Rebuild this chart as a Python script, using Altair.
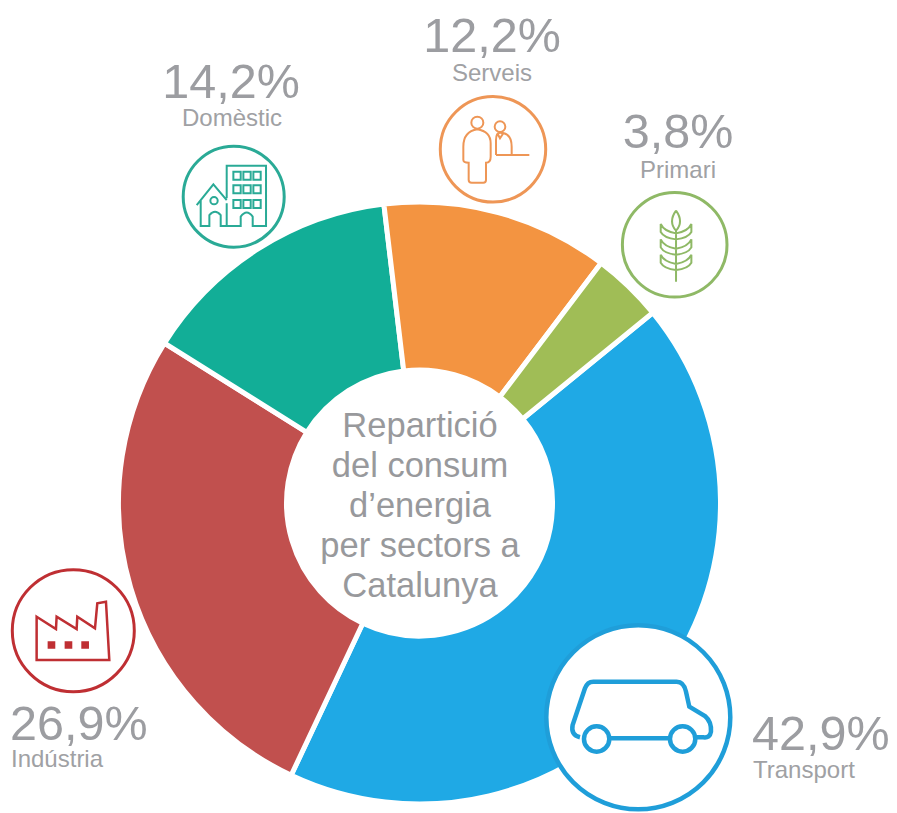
import math
import re
import altair as alt
import pandas as pd

sectors = ["Transport", "Indústria", "Domèstic", "Serveis", "Primari"]
shares = [42.9, 26.9, 14.2, 12.2, 3.8]
share_labels = ["42,9%", "26,9%", "14,2%", "12,2%", "3,8%"]
slice_colors = ["#1fa9e5", "#c1504e", "#12ae97", "#f39441", "#a0bd56"]
centre_title = "Repartició\ndel consum\nd’energia\nper sectors a\nCatalunya"

df = pd.DataFrame({"sector": sectors, "share": shares, "label": share_labels,
                   "rank": list(range(len(sectors)))})
centre_df = pd.DataFrame({"title": [centre_title]})

OFFSET = 8  # page margin: picture pixels -> plot pixels


def ring(x, y, r):
    k = r * 0.5523
    return (f"M{x-r} {y} C{x-r} {y-k} {x-k} {y-r} {x} {y-r} C{x+k} {y-r} {x+r} {y-k} {x+r} {y} "
            f"C{x+r} {y+k} {x+k} {y+r} {x} {y+r} C{x-k} {y+r} {x-r} {y+k} {x-r} {y} Z ")


def box(x, y, w, h):
    return f"M{x} {y} L{x+w} {y} L{x+w} {y+h} L{x} {y+h} Z "


def glyph(path, cx, cy):
    """Outline sketched on a 3x crop: re-centre it on the badge, in picture pixels."""
    return re.sub(r"(-?[\d.]+) (-?[\d.]+)",
                  lambda m: f"{(float(m[1])-cx)/3:.2f} {(float(m[2])-cy)/3:.2f}", path)


dom = ("M230 595 L230 497 L348 497 L348 678 L308 678 L308 650 Q290 625 272 650 L272 678 L230 678 L230 610 "
       "M140 615 L190 553 L230 600 M152 602 L152 678 L178 678 L178 645 Q195 625 212 645 L212 678 L230 678 "
       + ring(192, 602, 11)
       + "".join(box(x, y, 22, 24) for x in (250, 280, 310) for y in (515, 556, 600)))
srv = (ring(172, 368, 18)
       + "M172 388 Q130 395 130 440 L130 480 Q130 488 146 488 L146 540 Q146 548 155 548 L190 548 "
         "Q198 548 198 540 L198 488 Q212 488 212 470 L212 430 Q212 395 172 388 Z "
       + ring(240, 380, 16)
       + "M228 465 L228 420 Q228 398 240 398 Q275 398 275 440 L275 465 M228 465 L328 465 "
         "M232 400 L240 415 L250 400 ")
pri = "M768 692 L768 845 M768 632 Q792 665 768 692 Q744 665 768 632 "
for y in (672, 718, 764):
    pri += (f"M768 {y+46} Q732 {y+42} 722 {y+24} L722 {y} Q732 {y+22} 768 {y+28} "
            f"M768 {y+46} Q804 {y+42} 814 {y+24} L814 {y} Q804 {y+22} 768 {y+28} ")
ind = "M110 170 L168 207 L170 170 L230 207 L232 170 L285 205 L292 130 L318 125 L328 300 L110 300 Z "
ind_fill = "".join(box(x, 244, 23, 22) for x in (143, 194, 244))
van = ("M150 382 Q122 375 128 345 L165 235 Q172 215 190 215 L440 215 Q462 215 468 245 L478 290 "
       "L525 318 Q545 335 543 365 Q540 385 520 382 L500 382 M420 385 L240 385 "
       + ring(200, 387, 38) + ring(458, 387, 38))

# badge: sector -> picture centre x, y, radius, stroke colour, stroke width, glyph
badges = [
    ("Transport", 638.3, 717.3, 92, "#1f9ed9", 4.5, glyph(van, 325, 322), None, 4.5),
    ("Indústria", 73.3, 630.7, 61, "#bf2f33", 3, glyph(ind, 220, 212), glyph(ind_fill, 220, 212), 2.5),
    ("Domèstic", 233.7, 196.7, 50.5, "#2aaa96", 3, glyph(dom, 251, 590), None, 2),
    ("Serveis", 493, 149.3, 52.7, "#ee9656", 3, glyph(srv, 219, 448), None, 2),
    ("Primari", 674.7, 244.7, 52.3, "#8fb966", 3, glyph(pri, 764, 734), None, 2),
]
# texts: sector -> align, number x, number baseline, name x, name baseline
texts = [
    ("Transport", "left", 752, 750, 753, 778),
    ("Indústria", "left", 10, 740, 11, 767),
    ("Domèstic", "center", 231, 98, 232, 126),
    ("Serveis", "center", 492, 52, 492, 81),
    ("Primari", "center", 678, 148, 678, 178),
]

FONT = "Liberation Sans"
start = math.radians(50.8)

base = alt.Chart(df)
arcs = base.mark_arc(radius=301, radius2=133, stroke="white", strokeWidth=5).encode(
    x=alt.value(419.5 - OFFSET),
    y=alt.value(503 - OFFSET),
    theta=alt.Theta("share:Q", stack=True,
                    scale=alt.Scale(domain=[0, 100], range=[start, start + 2 * math.pi])),
    order=alt.Order("rank:Q"),
    color=alt.Color("sector:N", legend=None,
                    scale=alt.Scale(domain=sectors, range=slice_colors)),
)
layers = [arcs]

layers.append(
    alt.Chart(centre_df).mark_text(font=FONT, fontSize=34.5, color="#98999c", align="center",
                                   baseline="alphabetic", lineBreak="\n", lineHeight=40).encode(
        x=alt.value(420 - OFFSET), y=alt.value(437 - OFFSET), text="title:N")
)

for name, cx, cy, r, col, sw, path, fill_path, isw in badges:
    row = base.transform_filter(alt.datum.sector == name)
    pos = dict(x=alt.value(cx - OFFSET), y=alt.value(cy - OFFSET))
    layers.append(row.mark_point(shape="circle", filled=True, fill="white", stroke=col, strokeWidth=sw,
                                 opacity=1, size=4 * r * r).encode(**pos))
    layers.append(row.mark_point(shape=path, filled=False, stroke=col, strokeWidth=isw,
                                 opacity=1, size=4).encode(**pos))
    if fill_path:
        layers.append(row.mark_point(shape=fill_path, filled=True, fill=col, opacity=1,
                                     size=4).encode(**pos))

for name, align, nx, ny, tx, ty in texts:
    row = base.transform_filter(alt.datum.sector == name)
    layers.append(row.mark_text(font=FONT, fontSize=48.5, color="#9c9da1", align=align,
                                baseline="alphabetic").encode(
        x=alt.value(nx - OFFSET), y=alt.value(ny - OFFSET), text="label:N"))
    layers.append(row.mark_text(font=FONT, fontSize=24, color="#a0a1a4", align=align,
                                baseline="alphabetic").encode(
        x=alt.value(tx - OFFSET), y=alt.value(ty - OFFSET), text="sector:N"))

chart = alt.layer(*layers).properties(
    width=881, height=805, padding=0, background="white",
    autosize=alt.AutoSizeParams(type="none"),
).configure_view(stroke=None)

chart.save("out.html", embed_options={"renderer": "svg", "actions": False})
